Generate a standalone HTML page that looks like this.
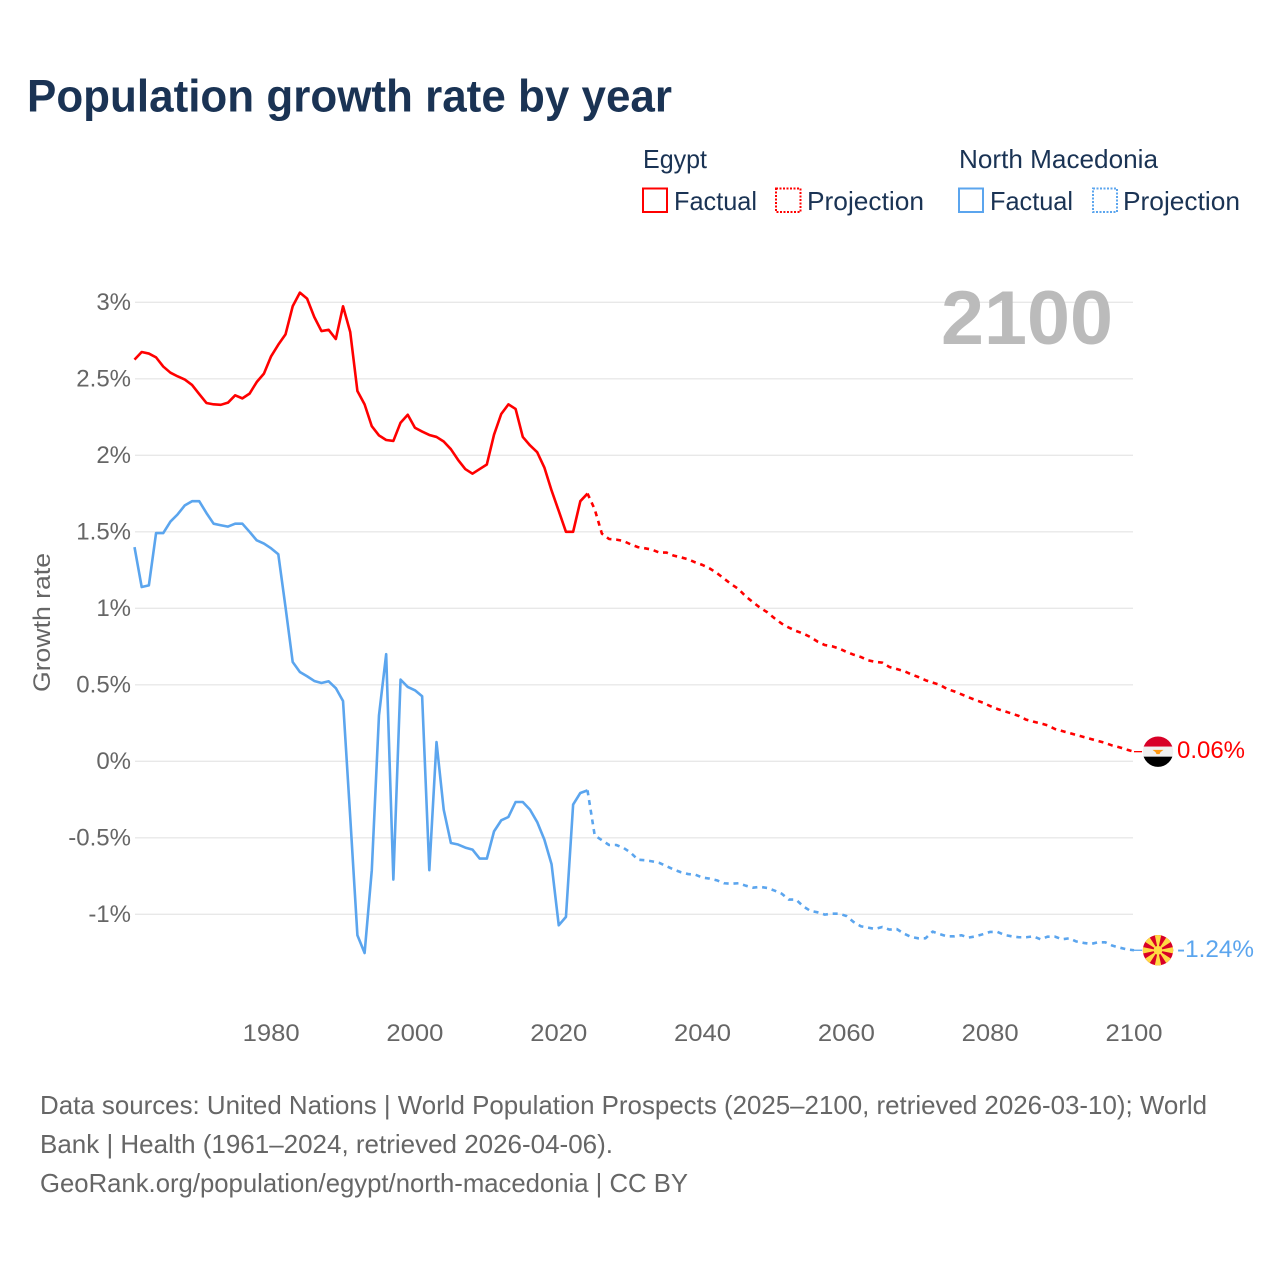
<!DOCTYPE html>
<html lang="en">
<head>
<meta charset="utf-8">
<title>Population growth rate by year</title>
<style>
html,body{margin:0;padding:0;background:#fff;}
#chart{display:block;width:1280px;height:1280px;font-family:"Liberation Sans",sans-serif;}
</style>
</head>
<body>
<svg id="chart" xmlns="http://www.w3.org/2000/svg" width="1280" height="1280" viewBox="0 0 1280 1280">
  <rect x="0" y="0" width="1280" height="1280" fill="#fff"/>
  <text x="27" y="111.5" font-size="45" font-weight="700" fill="#1a3354" textLength="645" lengthAdjust="spacingAndGlyphs">Population growth rate by year</text>

  <g font-size="26" fill="#1a3354">
    <text x="643" y="168" textLength="64" lengthAdjust="spacingAndGlyphs">Egypt</text>
    <text x="959" y="168" textLength="199" lengthAdjust="spacingAndGlyphs">North Macedonia</text>
    <rect x="643" y="188.5" width="24" height="23.5" fill="none" stroke="#ff0000" stroke-width="2"/>
    <text x="674" y="210" textLength="83" lengthAdjust="spacingAndGlyphs">Factual</text>
    <rect x="776" y="188.5" width="24.5" height="23.5" fill="none" stroke="#ff0000" stroke-width="2" stroke-dasharray="2 1.5"/>
    <text x="807" y="210" textLength="117" lengthAdjust="spacingAndGlyphs">Projection</text>
    <rect x="959" y="188.5" width="24" height="23.5" fill="none" stroke="#5ba5ee" stroke-width="2"/>
    <text x="990" y="210" textLength="83" lengthAdjust="spacingAndGlyphs">Factual</text>
    <rect x="1093" y="188.5" width="24" height="23.5" fill="none" stroke="#5ba5ee" stroke-width="2" stroke-dasharray="2 1.5"/>
    <text x="1123" y="210" textLength="117" lengthAdjust="spacingAndGlyphs">Projection</text>
  </g>

  <g id="grid"></g>
  <g id="yticks" font-size="24" fill="#666" text-anchor="end"></g>
  <g id="xticks" font-size="24" fill="#666" text-anchor="middle"></g>

  <text transform="translate(50,622.5) rotate(-90)" text-anchor="middle" font-size="24" fill="#666" textLength="139" lengthAdjust="spacingAndGlyphs">Growth rate</text>
  <text id="year-label" x="941" y="344" font-size="76" font-weight="700" fill="#bbbbbb" textLength="172" lengthAdjust="spacingAndGlyphs">2100</text>

  <g id="series"></g>

  <g id="egypt-flag">
    <clipPath id="egypt-clip"><circle cx="0" cy="0" r="15.2"/></clipPath>
    <g clip-path="url(#egypt-clip)">
      <rect x="-16" y="-16" width="32" height="11" fill="#d80027"/>
      <rect x="-16" y="-5" width="32" height="10.5" fill="#f0f0f0"/>
      <rect x="-16" y="5" width="32" height="11" fill="#000"/>
      <path d="M-5.5 -1.8 L5.5 -1.8 L2.5 0.5 L1.5 2.5 L-1.5 2.5 L-2.5 0.5 Z" fill="#ff9811"/>
    </g>
  </g>
  <g id="macedonia-flag">
    <clipPath id="macedonia-clip"><circle cx="0" cy="0" r="15.2"/></clipPath>
    <g clip-path="url(#macedonia-clip)">
      <circle cx="0" cy="0" r="16" fill="#d80027"/>
      <path fill="#ffda44" d="M-3.4 -16 L3.4 -16 L0 0 Z M-3.4 16 L3.4 16 L0 0 Z M-16 -3.4 L-16 3.4 L0 0 Z M16 -3.4 L16 3.4 L0 0 Z M-13.7 -8.9 L-8.9 -13.7 L0 0 Z M13.7 -8.9 L8.9 -13.7 L0 0 Z M-13.7 8.9 L-8.9 13.7 L0 0 Z M13.7 8.9 L8.9 13.7 L0 0 Z"/>
      <circle cx="0" cy="0" r="4.4" fill="#ffda44"/>
    </g>
  </g>
  <g id="end-labels" font-size="24"></g>

  <g font-size="26" fill="#666">
    <text x="40" y="1114" textLength="1167" lengthAdjust="spacingAndGlyphs">Data sources: United Nations | World Population Prospects (2025–2100, retrieved 2026-03-10); World</text>
    <text x="40" y="1153" textLength="573" lengthAdjust="spacingAndGlyphs">Bank | Health (1961–2024, retrieved 2026-04-06).</text>
    <text x="40" y="1192" textLength="648" lengthAdjust="spacingAndGlyphs">GeoRank.org/population/egypt/north-macedonia | CC BY</text>
  </g>
</svg>
<script>
const factualStartYear = 1961;
const projectionStartYear = 2024;
const xTickYears = [1980, 2000, 2020, 2040, 2060, 2080, 2100];
const yTickValues = [3, 2.5, 2, 1.5, 1, 0.5, 0, -0.5, -1];
const yTickLabels = ["3%", "2.5%", "2%", "1.5%", "1%", "0.5%", "0%", "-0.5%", "-1%"];
const endLabels = ["0.06%", "-1.24%"];
const egyptFactual = [2.625,2.675,2.665,2.64,2.58,2.54,2.516,2.495,2.46,2.40,2.342,2.333,2.33,2.344,2.392,2.372,2.403,2.479,2.534,2.647,2.723,2.79,2.974,3.063,3.024,2.904,2.812,2.82,2.76,2.974,2.806,2.42,2.333,2.19,2.13,2.10,2.094,2.213,2.265,2.18,2.155,2.133,2.12,2.09,2.04,1.97,1.91,1.88,1.91,1.94,2.135,2.27,2.333,2.303,2.12,2.065,2.02,1.92,1.77,1.636,1.50,1.50,1.70,1.75];
const egyptProjection = [1.75,1.647,1.488,1.453,1.449,1.44,1.418,1.40,1.392,1.383,1.364,1.364,1.344,1.333,1.32,1.30,1.283,1.26,1.23,1.194,1.157,1.126,1.078,1.04,1.004,0.974,0.935,0.90,0.874,0.852,0.835,0.812,0.782,0.76,0.752,0.737,0.715,0.697,0.682,0.66,0.65,0.645,0.616,0.603,0.59,0.569,0.551,0.53,0.514,0.50,0.473,0.457,0.438,0.418,0.40,0.383,0.361,0.342,0.327,0.312,0.296,0.272,0.259,0.248,0.235,0.211,0.198,0.185,0.172,0.159,0.146,0.133,0.12,0.103,0.091,0.076,0.063];
const macedoniaFactual = [1.40,1.139,1.15,1.492,1.492,1.567,1.614,1.673,1.70,1.70,1.623,1.553,1.543,1.534,1.553,1.553,1.50,1.444,1.423,1.392,1.353,1.008,0.649,0.584,0.556,0.525,0.512,0.523,0.478,0.394,-0.364,-1.137,-1.253,-0.712,0.30,0.70,-0.773,0.534,0.486,0.464,0.425,-0.712,0.126,-0.316,-0.534,-0.544,-0.564,-0.577,-0.636,-0.636,-0.458,-0.386,-0.364,-0.266,-0.266,-0.316,-0.397,-0.512,-0.673,-1.072,-1.017,-0.283,-0.207,-0.19];
const macedoniaProjection = [-0.19,-0.484,-0.516,-0.547,-0.547,-0.566,-0.597,-0.643,-0.647,-0.654,-0.664,-0.686,-0.708,-0.725,-0.737,-0.741,-0.76,-0.767,-0.778,-0.797,-0.80,-0.797,-0.813,-0.826,-0.821,-0.828,-0.845,-0.865,-0.904,-0.904,-0.948,-0.978,-0.987,-1.002,-0.996,-0.996,-1.011,-1.05,-1.078,-1.087,-1.096,-1.083,-1.10,-1.096,-1.126,-1.148,-1.157,-1.157,-1.113,-1.13,-1.144,-1.144,-1.137,-1.152,-1.144,-1.13,-1.115,-1.115,-1.135,-1.144,-1.15,-1.15,-1.144,-1.163,-1.146,-1.146,-1.163,-1.157,-1.178,-1.187,-1.194,-1.183,-1.183,-1.205,-1.218,-1.229,-1.235];

const NS = "http://www.w3.org/2000/svg";
const RED = "#ff0000";
const BLUE = "#5ba5ee";
function xScale(year) { return 134.5 + (year - 1961) * (999.5 / 139); }
function yScale(value) { return 761.3 - value * 153; }
function toPoints(values, startYear) {
  return values.map(function (v, i) { return xScale(startYear + i).toFixed(2) + "," + yScale(v).toFixed(2); }).join(" ");
}

const gridLayer = document.getElementById("grid");
const yTickLayer = document.getElementById("yticks");
yTickValues.forEach(function (v, i) {
  const line = document.createElementNS(NS, "line");
  
  
  line.setAttribute("x1", 135);
  line.setAttribute("x2", 1133);
  line.setAttribute("y1", yScale(v));
  line.setAttribute("y2", yScale(v));
  line.setAttribute("stroke", "#e8e8e8");
  line.setAttribute("stroke-width", "1.3");
  gridLayer.appendChild(line);
  const label = document.createElementNS(NS, "text");
  
  
  label.setAttribute("x", 131);
  label.setAttribute("y", yScale(v) + 7.7);
  label.textContent = yTickLabels[i];
  yTickLayer.appendChild(label);
});

const xTickLayer = document.getElementById("xticks");
xTickYears.forEach(function (year) {
  const label = document.createElementNS(NS, "text");
  
  
  label.setAttribute("x", xScale(year));
  label.setAttribute("y", 1041);
  label.setAttribute("textLength", 57);
  label.setAttribute("lengthAdjust", "spacingAndGlyphs");
  label.textContent = year;
  xTickLayer.appendChild(label);
});

const seriesLayer = document.getElementById("series");
function drawLine(values, startYear, colour, dashed, name) {
  const line = document.createElementNS(NS, "polyline");
  
  
  line.setAttribute("points", toPoints(values, startYear));
  line.setAttribute("fill", "none");
  line.setAttribute("stroke", colour);
  line.setAttribute("stroke-width", "2.6");
  line.setAttribute("stroke-linejoin", "round");
  if (dashed) line.setAttribute("stroke-dasharray", "5 4.8");
  seriesLayer.appendChild(line);
}
drawLine(egyptFactual, factualStartYear, RED, false, 'egypt-factual-line');
drawLine(egyptProjection, projectionStartYear, RED, true, 'egypt-projection-line');
drawLine(macedoniaFactual, factualStartYear, BLUE, false, 'macedonia-factual-line');
drawLine(macedoniaProjection, projectionStartYear, BLUE, true, 'macedonia-projection-line');

function drawEnd(values, colour, flagId, labelText, labelWidth, name) {
  const last = yScale(values[values.length - 1]);
  const connector = document.createElementNS(NS, "line");
  
  
  connector.setAttribute("x1", 1134);
  connector.setAttribute("x2", 1142);
  connector.setAttribute("y1", last);
  connector.setAttribute("y2", last);
  connector.setAttribute("stroke", colour);
  connector.setAttribute("stroke-width", "1.3");
  seriesLayer.appendChild(connector);
  document.getElementById(flagId).setAttribute("transform", "translate(1158," + last + ")");
  const label = document.createElementNS(NS, "text");
  
  
  label.setAttribute("x", 1177);
  label.setAttribute("y", last + 6.5);
  label.setAttribute("fill", colour);
  label.setAttribute("textLength", labelWidth);
  label.setAttribute("lengthAdjust", "spacingAndGlyphs");
  label.textContent = labelText;
  document.getElementById("end-labels").appendChild(label);
}
drawEnd(egyptProjection, RED, "egypt-flag", endLabels[0], 68, 'egypt');
drawEnd(macedoniaProjection, BLUE, "macedonia-flag", endLabels[1], 77, 'macedonia');
</script>
</body>
</html>
